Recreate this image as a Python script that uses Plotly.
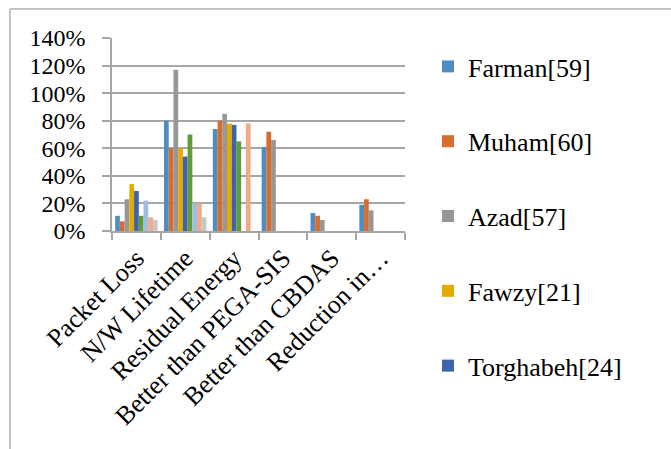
import plotly.graph_objects as go

categories = ["Packet Loss", "N/W Lifetime", "Residual Energy",
              "Better than PEGA-SIS", "Better than CBDAS", "Reduction in…"]

series_names = ["Farman[59]", "Muham[60]", "Azad[57]", "Fawzy[21]", "Torghabeh[24]",
                "Series6", "Series7", "Series8", "Series9"]

farman    = [0.11, 0.80, 0.74, 0.61, 0.13, 0.19]
muham     = [0.07, 0.60, 0.80, 0.72, 0.11, 0.23]
azad      = [0.23, 1.17, 0.85, 0.66, 0.08, 0.15]
fawzy     = [0.34, 0.60, 0.78, None, None, None]
torghabeh = [0.29, 0.54, 0.77, None, None, None]
series6   = [0.11, 0.70, 0.65, None, None, None]
series7   = [0.22, 0.20, None, None, None, None]
series8   = [0.10, 0.20, 0.78, None, None, None]
series9   = [0.08, 0.10, None, None, None, None]

all_values = [farman, muham, azad, fawzy, torghabeh, series6, series7, series8, series9]
colors = ["#4E8DC4", "#D86C2C", "#979797", "#E5AA00", "#3E63AD",
          "#5F9A3C", "#9DBDE3", "#F2A98A", "#C8C8C8"]
legend_shown = [True, True, True, True, True, False, False, False, False]

W, H = 671, 449
ML, MR, MT, MB = 112, 266, 38, 218
PW, PH = W - ML - MR, H - MT - MB

fig = go.Figure()
for name, vals, col, show in zip(series_names, all_values, colors, legend_shown):
    fig.add_trace(go.Bar(x=categories, y=vals, name=name, marker_color=col,
                         marker_line_width=0, showlegend=show, legendgroup=name))

font_family = "Liberation Serif, Times New Roman, serif"

fig.update_layout(
    width=W, height=H,
    margin=dict(l=ML, r=MR, t=MT, b=MB),
    paper_bgcolor="white", plot_bgcolor="white",
    barmode="group", bargap=0.13, bargroupgap=0,
    font=dict(family=font_family, size=24, color="black"),
    legend=dict(x=(428 - ML) / PW, y=(H - MB - 43) / PH, xanchor="left", yanchor="top",
                font=dict(family=font_family, size=26, color="black"),
                tracegroupgap=38, itemwidth=30, bgcolor="rgba(0,0,0,0)",
                maxheight=449),
    xaxis=dict(type="category", tickangle=-45, showgrid=False, automargin=False,
               showline=True, linecolor="#A6A6A6", linewidth=1.5,
               ticks="outside", tickson="boundaries", ticklen=7,
               tickcolor="#A6A6A6", tickwidth=1.5,
               tickfont=dict(family=font_family, size=26, color="black")),
    yaxis=dict(range=[0, 1.4], dtick=0.2, tickformat=".0%", automargin=False,
               showgrid=True, gridcolor="#A6A6A6", gridwidth=1.5,
               showline=True, linecolor="#A6A6A6", linewidth=1.5,
               ticks="outside", ticklen=8, tickcolor="#A6A6A6", tickwidth=1.5,
               ticklabelstandoff=12, zeroline=False,
               tickfont=dict(family=font_family, size=24, color="black")),
)

# outer chart frame (left and top edges visible)
x_left = (10 - ML) / PW
x_right = (W + 5 - ML) / PW
y_top = (H - MB - 9) / PH
y_bottom = (H - MB - H - 5) / PH
fig.add_shape(type="line", xref="paper", yref="paper", x0=x_left, x1=x_left,
              y0=y_bottom, y1=y_top, line=dict(color="#B0B0B0", width=1.5))
fig.add_shape(type="line", xref="paper", yref="paper", x0=x_left, x1=x_right,
              y0=y_top, y1=y_top, line=dict(color="#B0B0B0", width=1.5))

fig.write_html("out.html", config={"displayModeBar": False},
               post_script="document.body.style.margin='0';document.body.style.overflow='hidden';")
